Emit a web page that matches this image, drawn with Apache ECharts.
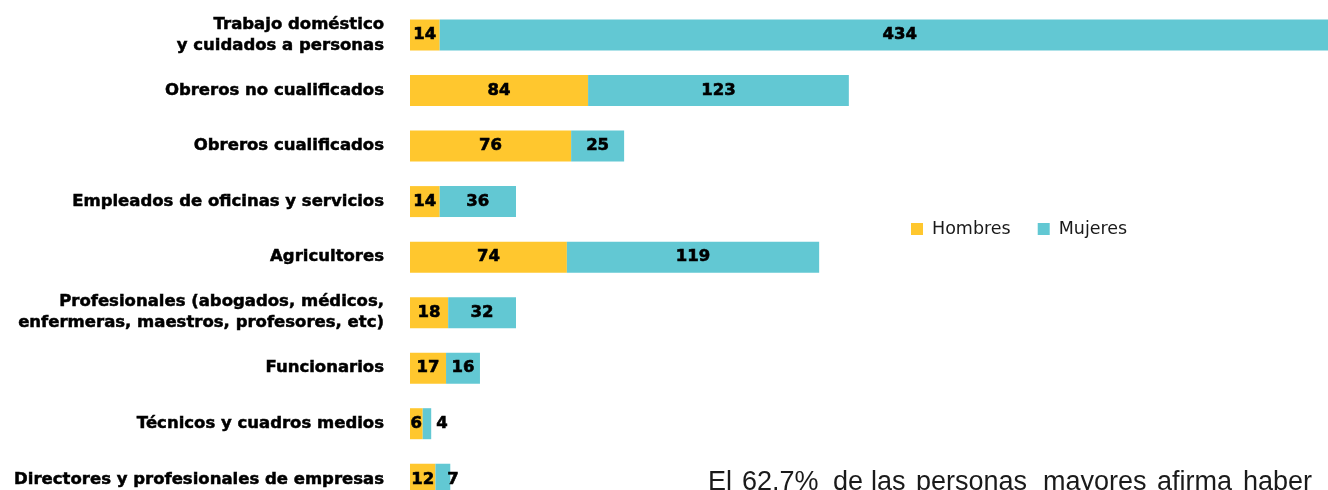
<!DOCTYPE html>
<html>
<head>
<meta charset="utf-8">
<script src="https://cdn.jsdelivr.net/npm/echarts@6/dist/echarts.min.js"></script>
<style>
html,body{margin:0;padding:0;background:#fff;overflow:hidden;width:1328px;height:490px;}
#chart{width:1364px;height:507px;}
</style>
</head>
<body>
<div id="chart"></div>
<script>
const categories = [
  'Trabajo doméstico\ny cuidados a personas',
  'Obreros no cualificados',
  'Obreros cualificados',
  'Empleados de oficinas y servicios',
  'Agricultores',
  'Profesionales (abogados, médicos,\nenfermeras, maestros, profesores, etc)',
  'Funcionarios',
  'Técnicos y cuadros medios',
  'Directores y profesionales de empresas'
];
const hombres = [14, 84, 76, 14, 74, 18, 17, 6, 12];
const mujeres = [434, 123, 25, 36, 119, 32, 16, 4, 7];
const seriesNames = ['Hombres', 'Mujeres'];
const noteWords = ['El', '62.7%', 'de', 'las', 'personas', 'mayores', 'afirma', 'haber'];
const noteX = [708, 742, 833, 871, 916, 1043, 1157, 1243];

const YELLOW = '#FFC72E';
const TEAL = '#62C8D3';
const labelBase = {
  show: true, position: 'inside', color: '#000',
  fontFamily: 'DejaVu Sans', fontWeight: 'bold', fontSize: 16.5,
  textBorderColor: '#000', textBorderWidth: 0.6
};

function mujeresData() {
  return mujeres.map(function (v) {
    if (v === 4) return { value: v, label: { position: 'right', distance: 5 } };
    if (v === 7) return { value: v, label: { position: 'right', distance: -3 } };
    return v;
  });
}

const chart = echarts.init(document.getElementById('chart'));
chart.setOption({
  animation: false,
  backgroundColor: '#fff',
  grid: { left: 410, right: 0, top: 7.25, bottom: 0, containLabel: false },
  legend: {
    data: seriesNames,
    left: 911, top: 220, padding: 0,
    icon: 'rect', itemWidth: 12, itemHeight: 12, itemGap: 27,
    textStyle: { fontFamily: 'DejaVu Sans', fontSize: 17.5, color: '#1a1a1a', padding: [0, 0, 0, 4] }
  },
  xAxis: {
    type: 'value', min: 0, max: 450,
    show: false
  },
  yAxis: {
    type: 'category', data: categories, inverse: true,
    axisLine: { show: false }, axisTick: { show: false }, splitLine: { show: false },
    axisLabel: {
      margin: 26, color: '#000', fontFamily: 'DejaVu Sans', fontWeight: 'bold',
      fontSize: 16.5, lineHeight: 21, align: 'right',
      textBorderColor: '#000', textBorderWidth: 0.5
    }
  },
  series: [
    {
      name: seriesNames[0], type: 'bar', stack: 'total', barWidth: 31,
      itemStyle: { color: YELLOW }, label: labelBase, data: hombres
    },
    {
      name: seriesNames[1], type: 'bar', stack: 'total', barWidth: 31,
      itemStyle: { color: TEAL }, label: labelBase, data: mujeresData()
    }
  ],
  graphic: noteWords.map(function (w, i) {
    return {
      type: 'text', left: noteX[i], top: 469, silent: true,
      style: { text: w, fontFamily: 'Liberation Sans', fontSize: 27, fill: '#1a1a1a' }
    };
  })
});
</script>
</body>
</html>
